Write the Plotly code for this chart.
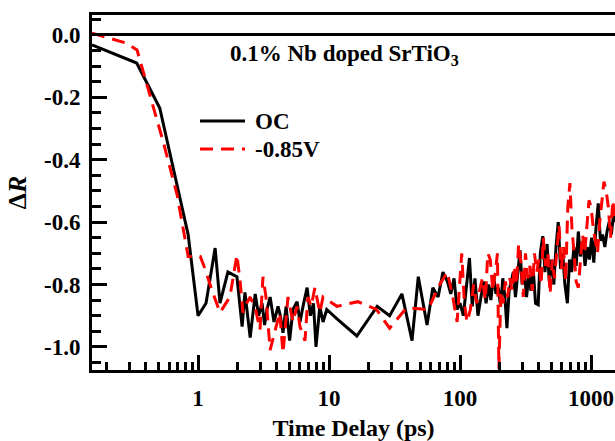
import plotly.graph_objects as go
import math

# ---- data ----
t_oc = [0.155, 0.34, 0.51, 0.84, 1.0, 1.15, 1.35, 1.47, 1.69, 1.98, 2.17, 2.28, 2.5, 2.73, 2.9,
        3.08, 3.22, 3.36, 3.55, 3.8, 4.08, 4.25, 4.45, 4.7, 5.0, 5.3, 5.7, 6.0, 6.4, 6.8, 7.2,
        7.6, 7.95, 8.5, 9.0, 9.6, 11.5, 16.3, 23.3, 29, 36, 43, 48, 56, 62, 68, 74, 80, 85, 90,
        95, 100, 106, 112, 118, 124, 130, 137, 144, 151, 158, 165, 172, 180, 188, 196, 204, 212,
        220, 228, 237, 246, 255, 265, 275, 287, 298, 310, 322, 335, 348, 362, 377, 395, 410, 428,
        445, 462, 480, 500, 520, 540, 562, 585, 608, 632, 660, 685, 712, 740, 770, 800, 830, 865,
        900, 935, 972, 1010, 1050, 1090, 1135, 1180, 1225, 1275, 1325, 1375, 1430, 1490, 1550]
dr_oc = [-0.032, -0.09, -0.234, -0.64, -0.90, -0.86, -0.683, -0.86, -0.76, -0.775, -0.935, -0.825,
         -0.97, -0.83, -0.90, -0.86, -0.93, -0.88, -0.84, -0.92, -0.87, -0.90, -0.955, -0.87, -0.98,
         -0.88, -0.855, -0.92, -0.86, -0.81, -0.90, -0.86, -1.00, -0.87, -0.92, -0.88, -0.91, -0.965,
         -0.87, -0.90, -0.83, -0.98, -0.775, -0.93, -0.81, -0.84, -0.76, -0.79, -0.83, -0.78, -0.88,
         -0.86, -0.90, -0.80, -0.715, -0.87, -0.78, -0.90, -0.84, -0.79, -0.86, -0.80, -0.85, -0.77,
         -0.83, -0.81, -0.87, -0.78, -0.84, -0.94, -0.82, -0.79, -0.76, -0.84, -0.78, -0.69, -0.80,
         -0.76, -0.84, -0.77, -0.82, -0.75, -0.86, -0.865, -0.70, -0.645, -0.76, -0.67, -0.79, -0.72,
         -0.80, -0.68, -0.60, -0.75, -0.70, -0.80, -0.86, -0.72, -0.76, -0.68, -0.74, -0.63, -0.71,
         -0.66, -0.74, -0.68, -0.72, -0.65, -0.73, -0.62, -0.54, -0.66, -0.64, -0.68, -0.63, -0.60,
         -0.64, -0.57, -0.60]

t_v = [0.155, 0.287, 0.342, 0.45, 0.54, 0.69, 0.84, 1.04, 1.13, 1.28, 1.47, 1.75, 1.98, 2.1, 2.2,
       2.35, 2.5, 2.75, 2.97, 3.13, 3.3, 3.55, 3.87, 4.2, 4.45, 4.86, 5.3, 5.7, 6.0, 6.55, 6.9, 7.3,
       7.8, 8.5, 9.0, 11.5, 16.6, 23, 29, 39, 57, 70, 80, 88, 95, 103, 108, 113, 120, 127, 134, 141,
       148, 156, 163, 170, 178, 186, 193, 198, 205, 213, 222, 231, 240, 250, 260, 270, 280, 292,
       304, 316, 329, 342, 356, 370, 385, 400, 416, 432, 450, 468, 487, 506, 526, 547, 570, 593,
       616, 640, 665, 690, 715, 742, 770, 800, 830, 862, 895, 930, 965, 1000, 1040, 1080, 1120,
       1165, 1210, 1255, 1305, 1355, 1410, 1465, 1520]
dr_v = [0.006, -0.027, -0.048, -0.22, -0.34, -0.51, -0.71, -0.71, -0.75, -0.82, -0.89, -0.84,
        -0.705, -0.795, -0.89, -0.86, -0.84, -0.88, -0.945, -0.775, -0.84, -1.01, -0.945, -0.89,
        -1.02, -0.84, -0.92, -0.87, -0.935, -0.98, -0.84, -0.87, -0.81, -0.89, -0.84, -0.87, -0.855,
        -0.88, -0.94, -0.875, -0.88, -0.80, -0.76, -0.84, -0.92, -0.70, -0.86, -0.92, -0.88, -0.80,
        -0.86, -0.82, -0.78, -0.85, -0.70, -0.72, -0.82, -0.76, -0.70, -1.07, -0.82, -0.86, -0.79,
        -0.84, -0.78, -0.82, -0.74, -0.80, -0.67, -0.73, -0.84, -0.70, -0.78, -0.74, -0.82, -0.70,
        -0.76, -0.72, -0.80, -0.65, -0.74, -0.70, -0.83, -0.72, -0.78, -0.70, -0.61, -0.75, -0.68,
        -0.79, -0.55, -0.475, -0.62, -0.70, -0.79, -0.81, -0.72, -0.64, -0.70, -0.60, -0.53, -0.55,
        -0.62, -0.66, -0.70, -0.60, -0.52, -0.47, -0.50, -0.55, -0.65, -0.53, -0.58]

series_names = ["OC", "-0.85V"]
y_tickvals = [0.0, -0.2, -0.4, -0.6, -0.8, -1.0]
y_ticktext = ["0.0", "-0.2", "-0.4", "-0.6", "-0.8", "-1.0"]
x_tickvals = [1, 10, 100, 1000]
x_ticktext = ["1", "10", "100", "1000"]

FONT = "Liberation Serif, Times New Roman, serif"
FS = 23
RED_DASH = "13px,8px"

fig = go.Figure()
fig.add_trace(go.Scatter(x=t_oc, y=dr_oc, mode="lines", name=series_names[0],
                         line=dict(color="black", width=3), showlegend=False))
fig.add_trace(go.Scatter(x=t_v, y=dr_v, mode="lines", name=series_names[1],
                         line=dict(color="#ff0000", width=3, dash=RED_DASH), showlegend=False))

fig.update_layout(
    width=615, height=441,
    margin=dict(l=92, r=0, t=15, b=71),
    paper_bgcolor="white", plot_bgcolor="white",
    font=dict(family=FONT, size=FS, color="black"),
)
fig.update_xaxes(
    type="log", range=[math.log10(0.155), 3.183],
    showgrid=False, zeroline=False,
    showline=True, linecolor="black", linewidth=3, mirror=True,
    ticks="inside", ticklen=15, tickwidth=3, tickcolor="black",
    tickvals=x_tickvals, ticktext=x_ticktext,
    tickfont=dict(family=FONT, size=FS, weight="bold"),
    ticklabelstandoff=5,
    minor=dict(ticks="inside", ticklen=8, tickwidth=3, tickcolor="black", dtick="D1", showgrid=False),
    title=dict(text="Time Delay (ps)", font=dict(family=FONT, size=24, weight="bold"), standoff=12),
)
fig.update_yaxes(
    range=[-1.074, 0.064],
    showgrid=False,
    zeroline=True, zerolinecolor="black", zerolinewidth=3,
    showline=True, linecolor="black", linewidth=3, mirror=False,
    ticks="inside", ticklen=15, tickwidth=3, tickcolor="black",
    tickvals=y_tickvals, ticktext=y_ticktext,
    tickfont=dict(family=FONT, size=FS, weight="bold"),
    ticklabelstandoff=4,
    minor=dict(ticks="inside", ticklen=9, tickwidth=3, tickcolor="black", dtick=0.05, showgrid=False),
    title=dict(text="Δ<i>R</i>", font=dict(family=FONT, size=26, weight="bold"), standoff=10),
)

# annotation
fig.add_annotation(x=0.482, y=0.887, xref="paper", yref="paper",
                   text="0.1% Nb doped SrTiO<sub>3</sub>", showarrow=False,
                   font=dict(family=FONT, size=FS, weight="bold"), xanchor="center", yanchor="middle")

# manual legend (paper coords)
W, H = 523.0, 355.0
def px(xp):
    return (xp - 92) / W
def py(yp):
    return (370 - yp) / H

fig.add_shape(type="line", xref="paper", yref="paper", x0=px(200), x1=px(245), y0=py(121), y1=py(121),
              line=dict(color="black", width=3))
fig.add_shape(type="line", xref="paper", yref="paper", x0=px(200), x1=px(245), y0=py(149), y1=py(149),
              line=dict(color="#ff0000", width=3, dash=RED_DASH))
fig.add_annotation(x=px(253), y=py(121), xref="paper", yref="paper", text=series_names[0], showarrow=False,
                   xanchor="left", yanchor="middle", font=dict(family=FONT, size=FS, weight="bold"))
fig.add_annotation(x=px(253), y=py(149), xref="paper", yref="paper", text=series_names[1], showarrow=False,
                   xanchor="left", yanchor="middle", font=dict(family=FONT, size=FS, weight="bold"))

fig.write_html("out.html")
